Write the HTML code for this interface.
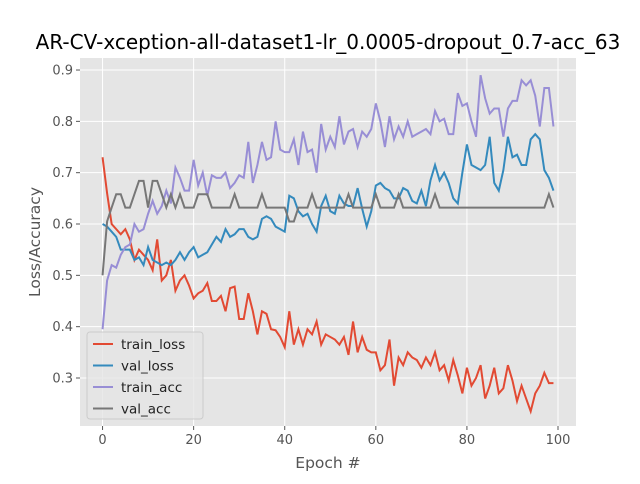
<!DOCTYPE html>
<html><head><meta charset="utf-8"><style>
body{margin:0;background:#fff;font-family:"DejaVu Sans","Liberation Sans",sans-serif;}
svg text{font-family:"DejaVu Sans","Liberation Sans",sans-serif;}
</style></head><body>
<svg id="c" width="640" height="480" xmlns="http://www.w3.org/2000/svg"></svg>
<script>
const epochs = Array.from({length:100},(_,i)=>i);
const trainLoss=[0.73,0.66,0.60,0.59,0.58,0.59,0.57,0.53,0.55,0.54,0.53,0.51,0.57,0.49,0.50,0.53,0.47,0.49,0.50,0.48,0.455,0.465,0.47,0.485,0.45,0.45,0.46,0.43,0.475,0.478,0.415,0.415,0.465,0.43,0.385,0.43,0.425,0.395,0.393,0.38,0.36,0.43,0.365,0.395,0.365,0.395,0.385,0.41,0.365,0.385,0.38,0.375,0.365,0.38,0.345,0.41,0.35,0.38,0.355,0.35,0.35,0.315,0.325,0.375,0.285,0.34,0.325,0.35,0.34,0.335,0.32,0.34,0.325,0.35,0.315,0.325,0.295,0.335,0.305,0.27,0.32,0.285,0.30,0.325,0.26,0.285,0.32,0.27,0.28,0.325,0.295,0.255,0.285,0.26,0.235,0.27,0.285,0.31,0.29,0.29];
const valLoss=[0.60,0.595,0.585,0.575,0.55,0.55,0.55,0.53,0.535,0.52,0.555,0.53,0.525,0.52,0.525,0.52,0.53,0.545,0.53,0.545,0.555,0.535,0.54,0.545,0.56,0.575,0.565,0.59,0.575,0.58,0.59,0.59,0.575,0.57,0.575,0.61,0.615,0.61,0.595,0.59,0.585,0.655,0.65,0.625,0.615,0.62,0.60,0.585,0.635,0.655,0.625,0.62,0.655,0.64,0.635,0.635,0.67,0.63,0.595,0.625,0.675,0.68,0.67,0.665,0.65,0.65,0.67,0.665,0.645,0.64,0.665,0.635,0.685,0.715,0.685,0.70,0.68,0.65,0.64,0.70,0.755,0.715,0.71,0.705,0.715,0.77,0.68,0.665,0.705,0.77,0.73,0.735,0.715,0.715,0.765,0.775,0.765,0.705,0.69,0.665];
const trainAcc=[0.395,0.49,0.52,0.515,0.54,0.555,0.56,0.60,0.585,0.59,0.62,0.645,0.62,0.635,0.665,0.64,0.71,0.69,0.665,0.665,0.725,0.675,0.70,0.655,0.695,0.69,0.69,0.70,0.67,0.68,0.695,0.69,0.76,0.68,0.715,0.76,0.725,0.73,0.80,0.745,0.74,0.74,0.765,0.715,0.78,0.74,0.745,0.70,0.795,0.745,0.77,0.75,0.81,0.755,0.78,0.785,0.75,0.78,0.77,0.785,0.835,0.80,0.75,0.81,0.765,0.79,0.77,0.80,0.77,0.775,0.78,0.785,0.775,0.82,0.80,0.805,0.775,0.775,0.855,0.83,0.835,0.80,0.77,0.89,0.845,0.815,0.825,0.825,0.77,0.825,0.84,0.84,0.88,0.87,0.88,0.85,0.79,0.865,0.865,0.79];
const valAcc=[0.50,0.605,0.632,0.658,0.658,0.632,0.632,0.658,0.684,0.684,0.632,0.684,0.684,0.658,0.632,0.658,0.632,0.658,0.632,0.632,0.632,0.658,0.658,0.658,0.632,0.632,0.632,0.632,0.632,0.658,0.632,0.632,0.632,0.632,0.632,0.658,0.632,0.632,0.632,0.632,0.632,0.605,0.605,0.632,0.632,0.632,0.658,0.632,0.632,0.632,0.632,0.632,0.632,0.632,0.658,0.632,0.632,0.632,0.632,0.632,0.658,0.632,0.632,0.632,0.632,0.658,0.632,0.632,0.632,0.632,0.632,0.632,0.632,0.658,0.632,0.632,0.632,0.632,0.632,0.632,0.632,0.632,0.632,0.632,0.632,0.632,0.632,0.632,0.632,0.632,0.632,0.632,0.632,0.632,0.632,0.632,0.632,0.632,0.658,0.632];
const xTicks=[0,20,40,60,80,100];
const yTicks=[0.3,0.4,0.5,0.6,0.7,0.8,0.9];
const seriesNames=["train_loss","val_loss","train_acc","val_acc"];
const seriesColors=["#E24A33","#348ABD","#988ED5","#777777"];
const seriesData=[trainLoss,valLoss,trainAcc,valAcc];

const L=80,R=576,T=58,B=426;
const xmin=-4.95,xmax=103.95;
const X=v=>L+(v-xmin)/(xmax-xmin)*(R-L);
const Y=v=>378-(v-0.3)*513.3;
const svg=document.getElementById('c');
const NS="http://www.w3.org/2000/svg";
function mk(t,a,p){const e=document.createElementNS(NS,t);for(const k in a)e.setAttribute(k,a[k]);(p||svg).appendChild(e);return e;}
const bg=mk('rect',{x:L,y:T,width:R-L,height:B-T,fill:'#E5E5E5'});


xTicks.forEach(t=>{const x=X(t);
 const g=mk('line',{x1:x,x2:x,y1:T,y2:B,stroke:'#fff','stroke-width':1});
 
 
 mk('line',{x1:x,x2:x,y1:B,y2:B+4,stroke:'#555'});
 const tx=mk('text',{x:x,y:B+18,'font-size':13,fill:'#555','text-anchor':'middle'});tx.textContent=t;
 
 
});
yTicks.forEach(t=>{const y=Y(t);
 const g=mk('line',{x1:L,x2:R,y1:y,y2:y,stroke:'#fff','stroke-width':1});
 
 
 mk('line',{x1:L-4,x2:L,y1:y,y2:y,stroke:'#555'});
 const tx=mk('text',{x:L-7,y:y+4.5,'font-size':13,fill:'#555','text-anchor':'end'});tx.textContent=t.toFixed(1);
 
 
});
seriesData.forEach((d,i)=>{
 const p=mk('polyline',{points:d.map((v,j)=>X(epochs[j])+','+Y(v)).join(' '),fill:'none',stroke:seriesColors[i],'stroke-width':2});
 
 
});
const title=mk('text',{x:328,y:49,'font-size':20,fill:'#000','text-anchor':'middle'});
title.textContent="AR-CV-xception-all-dataset1-lr_0.0005-dropout_0.7-acc_63";


const xl=mk('text',{x:328,y:468,'font-size':15.5,fill:'#555','text-anchor':'middle'});xl.textContent="Epoch #";


const yl=mk('text',{x:0,y:0,'font-size':15.5,fill:'#555','text-anchor':'middle',transform:'translate(40,242) rotate(-90)'});yl.textContent="Loss/Accuracy";


const lg=mk('g',{});


mk('rect',{x:87,y:332,width:116,height:87,rx:3,fill:'#E5E5E5',stroke:'#ccc','fill-opacity':0.8},lg);
seriesNames.forEach((n,i)=>{const y=344+i*21.5;
 const e=mk('g',{},lg);
 
 
 mk('line',{x1:93,x2:113,y1:y,y2:y,stroke:seriesColors[i],'stroke-width':2},e);
 const t=mk('text',{x:121,y:y+5,'font-size':13.5,fill:'#222'},e);t.textContent=n;
});
</script>
</body></html>
